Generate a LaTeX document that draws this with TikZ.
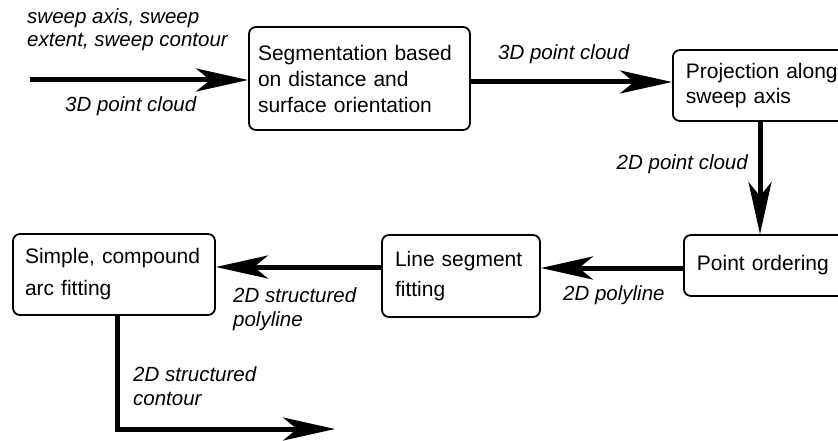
\documentclass[tikz,border=0pt]{standalone}
\usepackage{fontspec}
\setmainfont{Liberation Sans}
\usetikzlibrary{arrows.meta}
\begin{document}
\begin{tikzpicture}[x=1pt,y=-1pt,
  box/.style={draw, line width=1.8pt, rounded corners=7pt, align=left,
    font=\fontsize{21}{26}\selectfont, inner ysep=0pt},
  arr/.style={line width=5pt, -{Stealth[length=52pt,width=23pt,inset=14pt]}},
  lab/.style={font=\fontsize{20.5}{23.5}\selectfont\itshape, align=left, inner sep=0pt}]
\useasboundingbox (0,0) rectangle (838,441);
\node[box, inner xsep=9pt, text width=203pt, minimum height=103pt] (seg) at (359.5,78.5)
  {Segmentation based\\on distance and\\surface orientation};
\node[box, inner xsep=13pt, text width=170pt, minimum height=71pt, anchor=west,
  font=\fontsize{21}{25}\selectfont] (proj) at (672,85.5)
  {Projection along\\sweep axis};
\node[box, inner xsep=13pt, text width=170pt, minimum height=61pt, anchor=west] (po) at (683,265.5)
  {Point ordering};
\node[box, inner xsep=13pt, text width=132pt, minimum height=82pt,
  font=\fontsize{21}{30}\selectfont] (ls) at (461,276)
  {Line segment\\fitting};
\node[box, inner xsep=12pt, text width=178pt, minimum height=81pt,
  font=\fontsize{21}{32}\selectfont] (sc) at (114,274.5)
  {Simple, compound\\arc fitting};
\coordinate (inp) at (30,80);
\coordinate (out) at (335,429);
\draw[arr] (inp) -- (inp -| seg.west);
\draw[arr] (seg.east |- 0,82) -- (proj.west |- 0,82);
\draw[arr] (proj.south -| 760,0) -- (po.north -| 760,0);
\draw[arr] (po.west |- 0,268) -- (ls.east |- 0,268);
\draw[arr] (ls.west |- 0,267) -- (sc.east |- 0,267);
\draw[arr] (sc.south -| 117,0) |- (out);
\node[lab, anchor=base west] (l1) at (27,47) {sweep axis, sweep\\extent, sweep contour};
\node[lab, anchor=base west] (l2) at (65,112) {3D point cloud};
\node[lab, anchor=base west] (l3) at (498,60) {3D point cloud};
\node[lab, anchor=base east] (l4) at (748,170) {2D point cloud};
\node[lab, anchor=base west] (l5) at (563,300) {2D polyline};
\node[lab, anchor=base west] (l6) at (233,326) {2D structured\\polyline};
\node[lab, anchor=base west] (l7) at (133,405) {2D structured\\contour};
\end{tikzpicture}
\end{document}
